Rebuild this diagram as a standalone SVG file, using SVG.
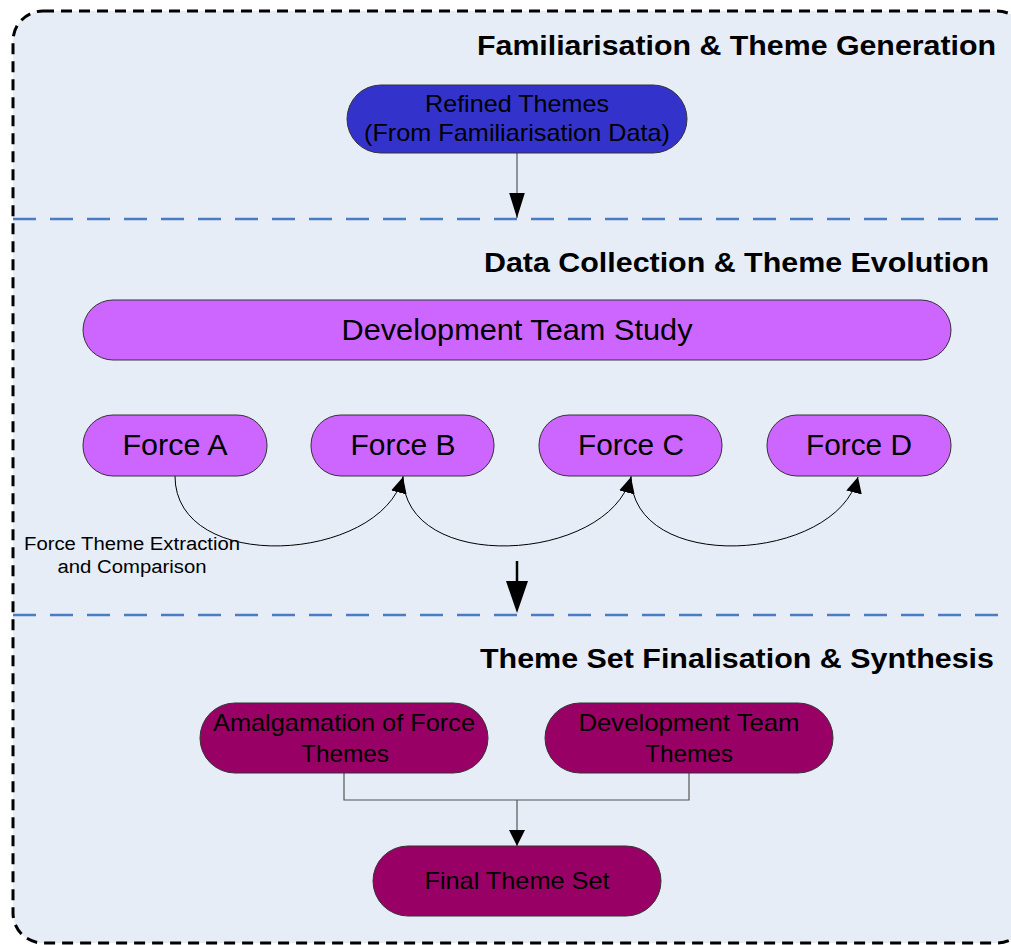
<svg xmlns="http://www.w3.org/2000/svg" width="1011" height="945" viewBox="0 0 1011 945">
  <style>
    text { font-family: "Liberation Sans", Arial, sans-serif; fill: #000; }
    .heading { font-size: 28px; font-weight: bold; text-anchor: end; }
    .label { text-anchor: middle; }
    .pill { stroke: #333; stroke-width: 1; }
    .blue { fill: #3333CC; }
    .violet { fill: #CC66FF; }
    .plum { fill: #990066; }
    .conn { fill: none; stroke: #555; stroke-width: 1.2; }
    .curve { fill: none; stroke: #000; stroke-width: 1; }
    .divider { stroke: #4A7CC4; stroke-width: 2.5; stroke-dasharray: 23 14; }
  </style>
  <defs>
    <marker id="head" viewBox="0 0 10 10" refX="10" refY="5" markerWidth="16" markerHeight="16" markerUnits="userSpaceOnUse" orient="auto">
      <path d="M0,0 L10,5 L0,10 Z" fill="#000"/>
    </marker>
    <marker id="headLong" viewBox="0 0 16 10" refX="16" refY="5" markerWidth="25" markerHeight="16" markerUnits="userSpaceOnUse" orient="auto">
      <path d="M0,0 L16,5 L0,10 Z" fill="#000"/>
    </marker>
  </defs>

  <!-- frame -->
  <rect x="13" y="11" width="1014" height="932" rx="30" ry="30" fill="#E6EDF7" stroke="#000" stroke-width="3" stroke-dasharray="11 7"/>

  <!-- phase dividers -->
  <line class="divider" x1="13" y1="219" x2="1011" y2="219"/>
  <line class="divider" x1="13" y1="615" x2="1011" y2="615"/>

  <!-- phase headings -->
  <text class="heading" x="996" y="55" textLength="519" lengthAdjust="spacingAndGlyphs">Familiarisation &amp; Theme Generation</text>
  <text class="heading" x="989" y="272" textLength="505" lengthAdjust="spacingAndGlyphs">Data Collection &amp; Theme Evolution</text>
  <text class="heading" x="994" y="668" textLength="514" lengthAdjust="spacingAndGlyphs">Theme Set Finalisation &amp; Synthesis</text>

  <!-- connectors -->
  <g id="connectors">
    <line class="conn" x1="517" y1="153" x2="517" y2="218" marker-end="url(#headLong)"/>
    <path class="curve" d="M175,476 C175,575 380,563 403,477" marker-end="url(#head)"/>
    <path class="curve" d="M403,476 C403,575 608,563 631,477" marker-end="url(#head)"/>
    <path class="curve" d="M631,476 C631,575 836,563 858,477" marker-end="url(#head)"/>
    <line x1="517" y1="561" x2="517" y2="600" stroke="#000" stroke-width="2.5"/>
    <path d="M506,581 L528,581 L517,613 Z" fill="#000"/>
    <path class="conn" d="M344,773 V800 H689 V773"/>
    <line class="conn" x1="517" y1="800" x2="517" y2="846" marker-end="url(#head)"/>
  </g>

  <g id="refined-themes">
    <rect class="pill blue" x="347" y="85" width="340" height="68" rx="34" ry="34"/>
    <text class="label" x="517" y="112" font-size="24" textLength="184" lengthAdjust="spacingAndGlyphs">Refined Themes</text>
    <text class="label" x="517" y="141" font-size="24" textLength="306" lengthAdjust="spacingAndGlyphs">(From Familiarisation Data)</text>
  </g>

  <g id="development-team-study">
    <rect class="pill violet" x="83" y="300" width="868" height="60" rx="30" ry="30"/>
    <text class="label" x="517" y="340" font-size="29" textLength="351" lengthAdjust="spacingAndGlyphs">Development Team Study</text>
  </g>

  <g id="force-a">
    <rect class="pill violet" x="83" y="415" width="184" height="61" rx="30" ry="30"/>
    <text class="label" x="175" y="455" font-size="29" textLength="105" lengthAdjust="spacingAndGlyphs">Force A</text>
  </g>
  <g id="force-b">
    <rect class="pill violet" x="311" y="415" width="183" height="61" rx="30" ry="30"/>
    <text class="label" x="403" y="455" font-size="29" textLength="105" lengthAdjust="spacingAndGlyphs">Force B</text>
  </g>
  <g id="force-c">
    <rect class="pill violet" x="539" y="415" width="183" height="61" rx="30" ry="30"/>
    <text class="label" x="631" y="455" font-size="29" textLength="106" lengthAdjust="spacingAndGlyphs">Force C</text>
  </g>
  <g id="force-d">
    <rect class="pill violet" x="767" y="415" width="184" height="61" rx="30" ry="30"/>
    <text class="label" x="859" y="455" font-size="29" textLength="106" lengthAdjust="spacingAndGlyphs">Force D</text>
  </g>

  <g id="extraction-label">
    <text class="label" x="132" y="550" font-size="18" textLength="216" lengthAdjust="spacingAndGlyphs">Force Theme Extraction</text>
    <text class="label" x="132" y="573" font-size="18" textLength="149" lengthAdjust="spacingAndGlyphs">and Comparison</text>
  </g>

  <g id="amalgamation">
    <rect class="pill plum" x="200" y="703" width="288" height="70" rx="35" ry="35"/>
    <text class="label" x="344" y="731" font-size="24" textLength="262" lengthAdjust="spacingAndGlyphs">Amalgamation of Force</text>
    <text class="label" x="345" y="762" font-size="24" textLength="88" lengthAdjust="spacingAndGlyphs">Themes</text>
  </g>

  <g id="development-team-themes">
    <rect class="pill plum" x="545" y="703" width="288" height="70" rx="35" ry="35"/>
    <text class="label" x="689" y="731" font-size="24" textLength="221" lengthAdjust="spacingAndGlyphs">Development Team</text>
    <text class="label" x="689" y="762" font-size="24" textLength="88" lengthAdjust="spacingAndGlyphs">Themes</text>
  </g>

  <g id="final-theme-set">
    <rect class="pill plum" x="373" y="846" width="288" height="70" rx="35" ry="35"/>
    <text class="label" x="517" y="889" font-size="24" textLength="185" lengthAdjust="spacingAndGlyphs">Final Theme Set</text>
  </g>
</svg>
